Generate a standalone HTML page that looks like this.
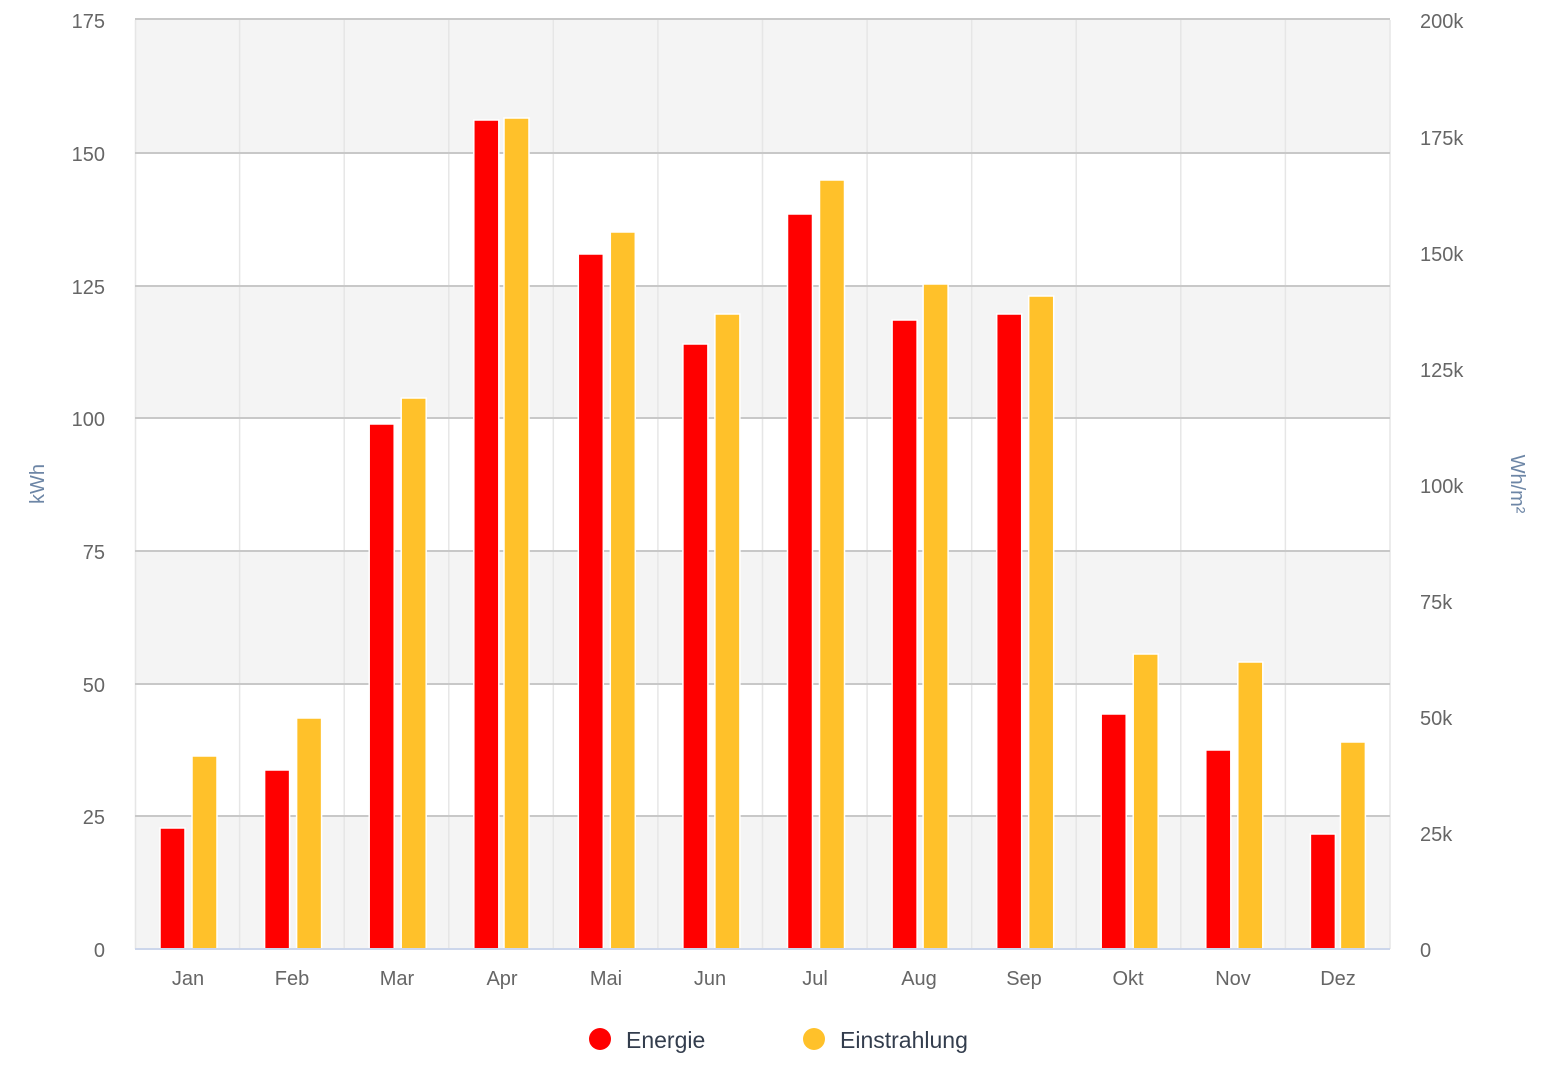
<!DOCTYPE html>
<html><head><meta charset="utf-8"><style>body{margin:0;background:#fff}svg{display:block;font-family:"Liberation Sans",Arial,sans-serif}</style></head><body>
<svg width="1556" height="1092" xmlns="http://www.w3.org/2000/svg">
<g fill="#f4f4f4">
<rect x="135" y="20" width="1255" height="133"/>
<rect x="135" y="286" width="1255" height="132"/>
<rect x="135" y="551" width="1255" height="133"/>
<rect x="135" y="816" width="1255" height="133"/>
</g>
<g stroke="#e6e6e6" stroke-width="1.5">
<line x1="135.5" y1="20" x2="135.5" y2="949"/>
<line x1="239.6" y1="20" x2="239.6" y2="949"/><line x1="344.2" y1="20" x2="344.2" y2="949"/><line x1="448.8" y1="20" x2="448.8" y2="949"/><line x1="553.3" y1="20" x2="553.3" y2="949"/><line x1="657.9" y1="20" x2="657.9" y2="949"/><line x1="762.5" y1="20" x2="762.5" y2="949"/><line x1="867.1" y1="20" x2="867.1" y2="949"/><line x1="971.7" y1="20" x2="971.7" y2="949"/><line x1="1076.2" y1="20" x2="1076.2" y2="949"/><line x1="1180.8" y1="20" x2="1180.8" y2="949"/><line x1="1285.4" y1="20" x2="1285.4" y2="949"/><line x1="1390" y1="20" x2="1390" y2="949"/>
</g>
<g stroke="#c8c8c8" stroke-width="2">
<line x1="135" y1="19" x2="1390" y2="19"/><line x1="135" y1="153" x2="1390" y2="153"/><line x1="135" y1="286" x2="1390" y2="286"/><line x1="135" y1="418" x2="1390" y2="418"/><line x1="135" y1="551" x2="1390" y2="551"/><line x1="135" y1="684" x2="1390" y2="684"/><line x1="135" y1="816" x2="1390" y2="816"/>
</g>
<g stroke="#fff" stroke-width="1.5">
<g fill="#ff0000">
<rect x="160" y="828" width="25" height="121"/><rect x="264.6" y="770" width="25" height="179"/><rect x="369.2" y="424" width="25" height="525"/><rect x="473.8" y="120" width="25" height="829"/><rect x="578.3" y="254" width="25" height="695"/><rect x="682.9" y="344" width="25" height="605"/><rect x="787.5" y="214" width="25" height="735"/><rect x="892.1" y="320" width="25" height="629"/><rect x="996.7" y="314" width="25" height="635"/><rect x="1101.2" y="714" width="25" height="235"/><rect x="1205.8" y="750" width="25" height="199"/><rect x="1310.4" y="834" width="25" height="115"/>
</g>
<g fill="#ffc12a">
<rect x="192" y="756" width="25" height="193"/><rect x="296.6" y="718" width="25" height="231"/><rect x="401.2" y="398" width="25" height="551"/><rect x="504" y="118" width="25" height="831"/><rect x="610.3" y="232" width="25" height="717"/><rect x="714.9" y="314" width="25" height="635"/><rect x="819.5" y="180" width="25" height="769"/><rect x="923.1" y="284" width="25" height="665"/><rect x="1028.7" y="296" width="25" height="653"/><rect x="1133.2" y="654" width="25" height="295"/><rect x="1237.8" y="662" width="25" height="287"/><rect x="1340.4" y="742" width="25" height="207"/>
</g>
</g>
<line x1="135" y1="949" x2="1390" y2="949" stroke="#ccd6eb" stroke-width="2"/>
<g fill="#666" font-size="20" text-anchor="end">
<text x="105" y="28">175</text><text x="105" y="161">150</text><text x="105" y="294">125</text><text x="105" y="426">100</text><text x="105" y="559">75</text><text x="105" y="692">50</text><text x="105" y="824">25</text><text x="105" y="957">0</text>
</g>
<g fill="#666" font-size="20">
<text x="1420" y="28">200k</text><text x="1420" y="145">175k</text><text x="1420" y="261">150k</text><text x="1420" y="377">125k</text><text x="1420" y="493">100k</text><text x="1420" y="609">75k</text><text x="1420" y="725">50k</text><text x="1420" y="841">25k</text><text x="1420" y="957">0</text>
</g>
<g fill="#666" font-size="20" text-anchor="middle">
<text x="188" y="985">Jan</text><text x="292" y="985">Feb</text><text x="397" y="985">Mar</text><text x="502" y="985">Apr</text><text x="606" y="985">Mai</text><text x="710" y="985">Jun</text><text x="815" y="985">Jul</text><text x="919" y="985">Aug</text><text x="1024" y="985">Sep</text><text x="1128" y="985">Okt</text><text x="1233" y="985">Nov</text><text x="1338" y="985">Dez</text>
</g>
<text transform="translate(44,484) rotate(-90)" fill="#6d86a6" font-size="20" text-anchor="middle">kWh</text>
<text transform="translate(1511,484) rotate(90)" fill="#6d86a6" font-size="20" text-anchor="middle">Wh/m²</text>
<circle cx="600" cy="1039" r="11" fill="#ff0000"/>
<text x="626" y="1048" fill="#333d4d" font-size="23">Energie</text>
<circle cx="814" cy="1039" r="11" fill="#ffc12a"/>
<text x="840" y="1048" fill="#333d4d" font-size="23">Einstrahlung</text>
</svg>
</body></html>
